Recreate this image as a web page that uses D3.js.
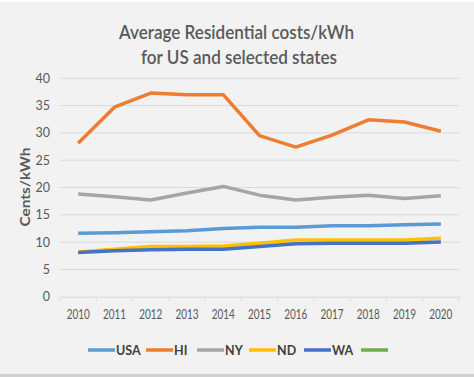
<!DOCTYPE html>
<html><head><meta charset="utf-8">
<script src="https://cdn.jsdelivr.net/npm/d3@7"></script>
<style>
html,body{margin:0;padding:0;background:#fff;}
svg{display:block;}
text{font-family:Lato,"Open Sans",sans-serif;}
</style></head><body>
<svg id="c" width="474" height="377"></svg>
<script>
const years = ["2010","2011","2012","2013","2014","2015","2016","2017","2018","2019","2020"];
const usa = [11.6,11.7,11.9,12.1,12.5,12.7,12.7,13.0,13.0,13.2,13.3];
const hi  = [28.1,34.7,37.3,37.0,37.0,29.5,27.4,29.6,32.4,32.0,30.3];
const ny  = [18.8,18.3,17.7,19.0,20.2,18.6,17.7,18.2,18.6,18.0,18.5];
const nd  = [8.2,8.7,9.2,9.2,9.3,9.8,10.4,10.4,10.4,10.4,10.7];
const wa  = [8.1,8.4,8.6,8.7,8.7,9.2,9.7,9.8,9.8,9.8,10.0];
const yTicks = [0,5,10,15,20,25,30,35,40];
const seriesNames = ["USA","HI","NY","ND","WA",""];
const seriesColors = ["#5b9bd5","#ed7d31","#a5a5a5","#ffc000","#4472c4","#70ad47"];
const seriesData = [usa,hi,ny,nd,wa];

const svg = d3.select("#c");
svg.append("rect").attr("x",0).attr("y",0).attr("width",474).attr("height",377).attr("fill","#f2f2f2");
svg.append("rect").attr("x",0).attr("y",0).attr("width",474).attr("height",2).attr("fill","#ffffff");
svg.append("rect").attr("x",0).attr("y",374).attr("width",474).attr("height",3).attr("fill","#d0d0d0");

const L=60, R=459, T=78.3, B=296.7;
const x = d3.scaleBand().domain(years).range([L,R]);
const y = d3.scaleLinear().domain([0,40]).range([B,T]);

// gridlines
svg.append("g").selectAll("line").data(yTicks.filter(d=>d>0)).join("line")
  .attr("x1",L).attr("x2",R).attr("y1",d=>y(d)).attr("y2",d=>y(d))
  .attr("stroke","#d9d9d9").attr("stroke-width",1);

// x axis
const xa = svg.append("g").attr("transform",`translate(0,${B})`)
  .call(d3.axisBottom(x).tickSize(0).tickPadding(13));
xa.select(".domain").attr("stroke","#d9d9d9");
xa.selectAll("text").attr("fill","#595959").attr("font-size","13px").attr("textLength",23).attr("lengthAdjust","spacingAndGlyphs");
// boundary ticks
svg.append("g").selectAll("line").data(d3.range(years.length+1)).join("line")
  .attr("x1",i=>L+i*x.step()).attr("x2",i=>L+i*x.step()).attr("y1",B).attr("y2",B+4)
  .attr("stroke","#d9d9d9");

// y axis
const ya = svg.append("g").attr("transform",`translate(${L},0)`)
  .call(d3.axisLeft(y).tickValues(yTicks).tickSize(0).tickPadding(10));
ya.select(".domain").remove();
ya.selectAll("text").attr("fill","#595959").attr("font-size","12.5px");

svg.append("text").attr("transform",`translate(30,187) rotate(-90)`)
  .attr("text-anchor","middle").attr("font-weight","bold").attr("font-size","12.5px")
  .attr("fill","#595959").attr("textLength",79).attr("lengthAdjust","spacingAndGlyphs").text("Cents/kWh");

// title
const title = svg.append("g").attr("fill","#595959").attr("font-size","18.5px").attr("font-weight","600");
title.append("text").attr("x",119).attr("y",38.5).attr("textLength",235).attr("lengthAdjust","spacingAndGlyphs").text("Average Residential costs/kWh");
title.append("text").attr("x",141).attr("y",63.5).attr("textLength",196).attr("lengthAdjust","spacingAndGlyphs").text("for US and selected states");

// lines
const line = d3.line().x((d,i)=>x(years[i])+x.bandwidth()/2).y(d=>y(d));
svg.append("g").selectAll("path").data(seriesData).join("path")
  .attr("d",d=>line(d)).attr("fill","none")
  .attr("stroke",(d,i)=>seriesColors[i]).attr("stroke-width",3.5)
  .attr("stroke-linejoin","round");

// legend
const legX = [88,146,197,249,304,361];
const lg = svg.append("g");
seriesNames.forEach((n,i)=>{
  lg.append("line").attr("x1",legX[i]).attr("x2",legX[i]+27).attr("y1",350).attr("y2",350)
    .attr("stroke",seriesColors[i]).attr("stroke-width",3.5);
  if(n) lg.append("text").attr("x",legX[i]+28).attr("y",354.5).attr("font-size","12.5px")
    .attr("font-weight","bold").attr("fill","#404040").text(n);
});
</script></body></html>
